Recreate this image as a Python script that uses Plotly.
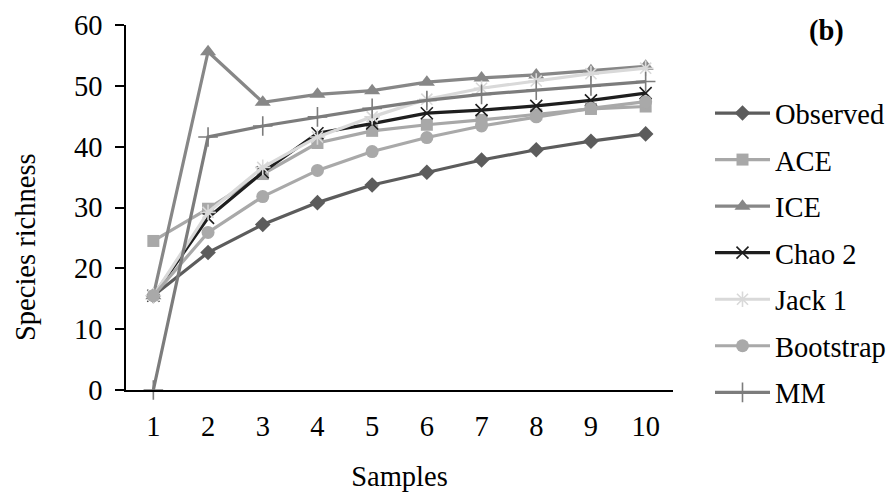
import plotly.graph_objects as go

samples = [1, 2, 3, 4, 5, 6, 7, 8, 9, 10]
tick_labels = ["1", "2", "3", "4", "5", "6", "7", "8", "9", "10"]

observed = [15.5, 22.6, 27.2, 30.8, 33.7, 35.8, 37.8, 39.5, 40.9, 42.1]
ace = [24.5, 29.8, 35.5, 40.6, 42.6, 43.6, 44.4, 45.3, 46.2, 46.6]
ice = [15.5, 55.6, 47.3, 48.6, 49.2, 50.6, 51.3, 51.8, 52.5, 53.2]
chao2 = [15.5, 28.3, 35.8, 42.2, 43.8, 45.5, 46.0, 46.7, 47.6, 48.8]
jack1 = [15.5, 29.2, 36.6, 41.6, 44.9, 47.8, 49.6, 50.8, 52.0, 52.9]
bootstrap = [15.5, 25.9, 31.8, 36.1, 39.2, 41.5, 43.4, 44.9, 46.3, 47.4]
mm = [0.0, 41.6, 43.4, 44.9, 46.3, 47.6, 48.6, 49.3, 50.0, 50.7]

series = [
    ("Observed", observed, "#5c5c5c", "diamond", 12, None),
    ("ACE", ace, "#a8a8a8", "square", 12, None),
    ("ICE", ice, "#878787", "triangle-up", 14, None),
    ("Chao 2", chao2, "#1e1e1e", "x-thin-open", 12, 1.6),
    ("Jack 1", jack1, "#d9d9d9", "asterisk-open", 13, 1.6),
    ("Bootstrap", bootstrap, "#a9a9a9", "circle", 13, None),
    ("MM", mm, "#7c7c7c", "cross-thin-open", 14, 1.6),
]

font_family = "Liberation Serif, Times New Roman, serif"
fs = 28.5

# plot area in pixels: x 126..673, y 25..390
FW, FH = 889, 497
L, R, T, B = 126, 673, 25, 390
W, H = R - L, B - T

fig = go.Figure()
for i, (name, vals, color, symbol, size, mlw) in enumerate(series):
    marker = dict(symbol=symbol, size=size, color=color)
    marker["line"] = dict(color=color, width=mlw) if mlw else dict(width=0)
    fig.add_trace(go.Scatter(
        x=samples, y=vals, name=name, mode="lines+markers",
        line=dict(color=color, width=3.2),
        marker=marker, legendgroup=f"g{i}", cliponaxis=False,
    ))

fig.update_layout(
    width=FW, height=FH,
    margin=dict(l=L, r=FW - R, t=T, b=FH - B, autoexpand=False),
    paper_bgcolor="white", plot_bgcolor="white",
    font=dict(family=font_family, size=fs, color="black"),
    showlegend=True,
    legend=dict(
        xref="container", yref="container",
        x=710 / FW, xanchor="left", y=1 - 88 / FH, yanchor="top",
        font=dict(size=fs, family=font_family, color="black"),
        tracegroupgap=6.5, itemwidth=55, bgcolor="rgba(0,0,0,0)",
        maxheight=1.0,
    ),
    xaxis=dict(
        range=[0.5, 10.5], tickmode="array", tickvals=samples, ticktext=tick_labels,
        showgrid=False, zeroline=False, showline=True, linecolor="black", linewidth=1.5,
        ticks="", ticklabelstandoff=10,
        title=dict(text="Samples", standoff=25, font=dict(size=fs)),
    ),
    yaxis=dict(
        range=[0, 60], tickmode="linear", tick0=0, dtick=10,
        showgrid=False, zeroline=False, showline=True, linecolor="black", linewidth=1.5,
        ticks="outside", ticklen=9, tickwidth=1.5, tickcolor="black", ticklabelstandoff=7,
    ),
    annotations=[
        dict(
            text="<b>(b)</b>", xref="paper", yref="paper",
            x=(826 - L) / W, y=(B - 31) / H,
            xanchor="center", yanchor="middle", showarrow=False,
            font=dict(size=fs, family=font_family, color="black"),
        ),
        dict(
            text="Species richness", xref="paper", yref="paper",
            x=(26 - L) / W, y=(B - 247) / H, textangle=-90,
            xanchor="center", yanchor="middle", showarrow=False,
            font=dict(size=fs, family=font_family, color="black"),
        ),
    ],
)

fig.write_html("out.html")
